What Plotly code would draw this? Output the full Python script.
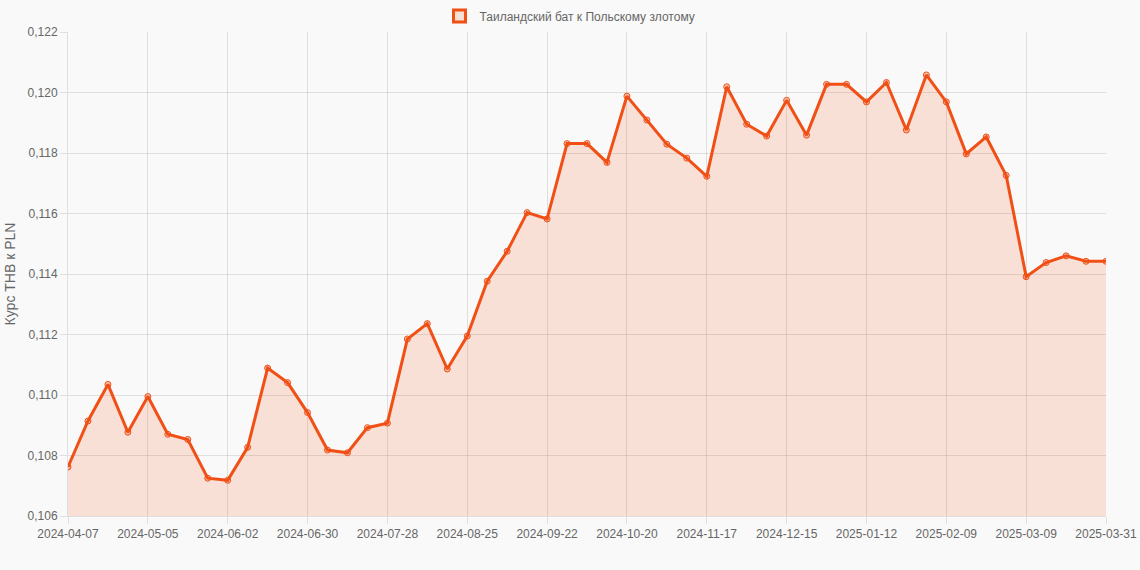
import pandas as pd
import plotly.graph_objects as go

# weekly dates, last point is the end of the period
dates = [d.strftime('%Y-%m-%d') for d in pd.date_range('2024-04-07', '2025-03-30', freq='7D')]
dates.append('2025-03-31')

rates = [
    0.10762, 0.10914, 0.11035, 0.10877, 0.10995, 0.10870, 0.10853, 0.10725,
    0.10718, 0.10827, 0.11089, 0.11041, 0.10942, 0.10818, 0.10809, 0.10892,
    0.10907, 0.11185, 0.11236, 0.11086, 0.11195, 0.11376, 0.11475, 0.11603,
    0.11582, 0.11831, 0.11831, 0.11769, 0.11988, 0.11909, 0.11829, 0.11783,
    0.11723, 0.12019, 0.11895, 0.11856, 0.11974, 0.11859, 0.12027, 0.12027,
    0.11969, 0.12033, 0.11876, 0.12058, 0.11969, 0.11797, 0.11853, 0.11726,
    0.11391, 0.11438, 0.11460, 0.11442, 0.11442,
]

series_name = 'Таиландский бат к Польскому злотому'
y_title = 'Курс THB к PLN'

tick_labels = dates[::4]
if dates[-1] not in tick_labels:
    tick_labels.append(dates[-1])

LINE = 'rgb(240, 80, 22)'
FILL = 'rgba(240, 80, 22, 0.15)'
GRID = 'rgba(0, 0, 0, 0.1)'
FONT = 'Liberation Sans, Arial, sans-serif'

fig = go.Figure()

fig.add_trace(go.Scatter(
    x=dates,
    y=rates,
    mode='lines+markers',
    fill='tozeroy',
    fillcolor=FILL,
    line=dict(color=LINE, width=3),
    marker=dict(size=6, color='rgba(240, 80, 22, 0.3)', line=dict(color=LINE, width=1)),
    showlegend=False,
))

# legend entry only (box-style like the original)
fig.add_trace(go.Bar(
    x=[dates[0]],
    y=[None],
    name=series_name,
    marker=dict(color='rgba(240, 80, 22, 0.15)', line=dict(color=LINE, width=3)),
    showlegend=True,
))

fig.update_layout(
    width=1140,
    height=570,
    margin=dict(l=68, r=34, t=32, b=54, autoexpand=False),
    paper_bgcolor='#f9f9f9',
    plot_bgcolor='#f9f9f9',
    separators=', ',
    font=dict(family=FONT, size=12, color='#666'),
    legend=dict(
        orientation='h',
        xref='container', yref='container',
        x=0.5, xanchor='center',
        y=0.972, yanchor='middle',
        font=dict(size=12, color='#666'),
        bgcolor='rgba(0,0,0,0)',
    ),
)

fig.update_xaxes(
    type='category',
    range=[0, len(dates) - 1],
    tickmode='array',
    tickvals=tick_labels,
    ticktext=tick_labels,
    tickangle=0,
    showgrid=True,
    gridcolor=GRID,
    ticks='outside',
    ticklen=7,
    tickcolor=GRID,
    showline=True,
    linecolor=GRID,
    zeroline=False,
    automargin=False,
)

fig.update_yaxes(
    range=[0.106, 0.122],
    dtick=0.002,
    tickformat='.3f',
    showgrid=True,
    gridcolor=GRID,
    ticks='outside',
    ticklen=7,
    tickcolor=GRID,
    showline=True,
    linecolor=GRID,
    zeroline=False,
    automargin=False,
    title=dict(text=y_title, font=dict(size=14, color='#666'), standoff=8),
)

fig.write_html(
    "out.html",
    config={'displayModeBar': False},
    post_script="document.body.style.margin='0';document.body.style.background='#f9f9f9';",
)
